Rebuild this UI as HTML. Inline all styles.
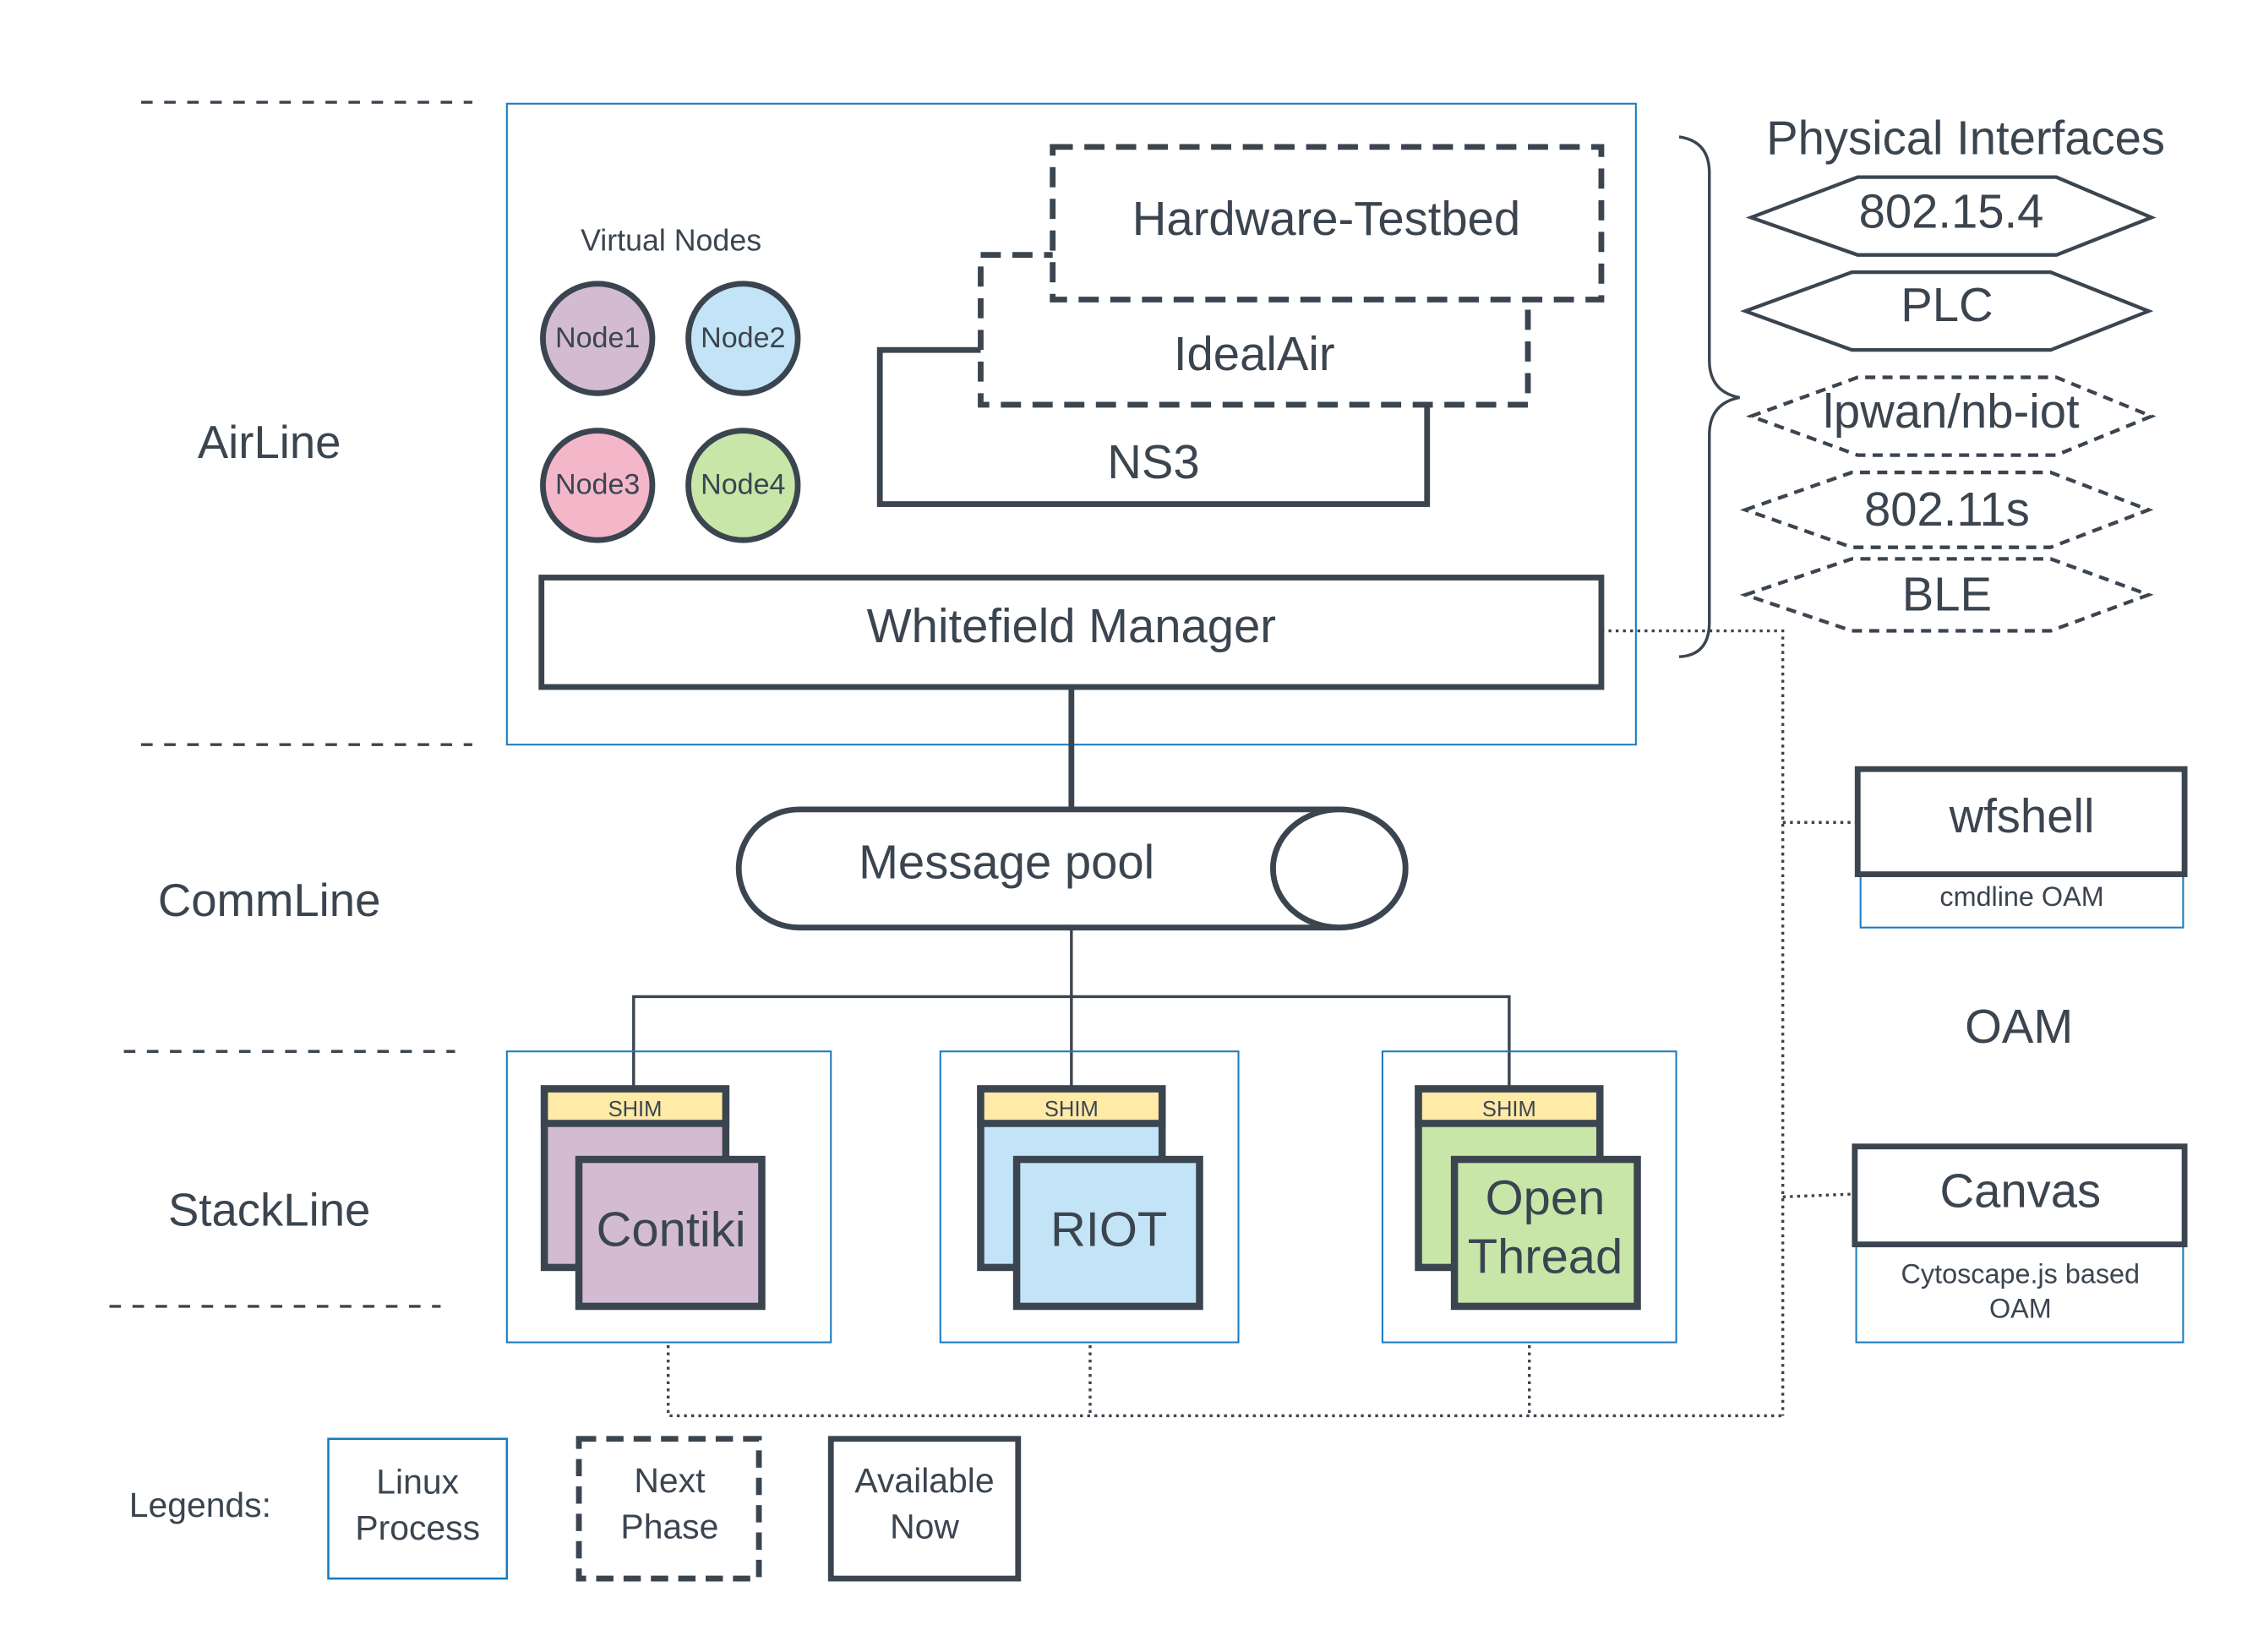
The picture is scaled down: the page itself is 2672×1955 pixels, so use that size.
<!DOCTYPE html>
<html><head><meta charset="utf-8"><style>
html,body{margin:0;padding:0;background:#fff;width:2672px;height:1955px;overflow:hidden}
svg{display:block}
text{font-family:"Liberation Sans",sans-serif;fill:#3b4550}
</style></head><body>
<svg width="2672" height="1955" viewBox="0 0 1568 1147" preserveAspectRatio="none" xmlns="http://www.w3.org/2000/svg">
<g stroke="#3b4550" fill="none">
<g stroke-width="2" stroke-dasharray="8,8">
<line x1="98" y1="71" x2="328" y2="71"/>
<line x1="98" y1="517" x2="328" y2="517"/>
<line x1="86" y1="730" x2="316" y2="730"/>
<line x1="76" y1="907" x2="306" y2="907"/>
</g>
<rect x="352" y="72" width="784" height="445" stroke="#1a7abf" stroke-width="1.2"/>
<rect x="611" y="243" width="380" height="107" stroke-width="4" fill="#fff"/>
<rect x="681" y="177" width="380" height="104" stroke-width="4" stroke-dasharray="14,8" fill="#fff"/>
<rect x="731" y="102" width="381" height="106" stroke-width="4" stroke-dasharray="14,8" fill="#fff"/>
<circle cx="415" cy="235" r="38" stroke-width="4" fill="#d3bcd1"/>
<circle cx="516" cy="235" r="38" stroke-width="4" fill="#c3e4f6"/>
<circle cx="415" cy="337" r="38" stroke-width="4" fill="#f4b7c9"/>
<circle cx="516" cy="337" r="38" stroke-width="4" fill="#c8e6a8"/>
<rect x="376" y="401" width="736" height="76" stroke-width="4" fill="#fff"/>
<line x1="744" y1="477" x2="744" y2="562" stroke-width="4"/>
<path d="M555,562 H930 A46,41 0 0 1 930,644 H555 A42,41 0 0 1 555,562 Z" stroke-width="4" fill="#fff"/>
<ellipse cx="930" cy="603" rx="46" ry="41" stroke-width="4" fill="#fff"/>
<line x1="744" y1="644" x2="744" y2="692" stroke-width="2"/>
<polyline points="440,755 440,692 1048,692 1048,755" stroke-width="2"/>
<line x1="744" y1="692" x2="744" y2="755" stroke-width="2"/>
<rect x="352" y="730" width="225" height="202" stroke="#1a7abf" stroke-width="1.2"/>
<rect x="653" y="730" width="207" height="202" stroke="#1a7abf" stroke-width="1.2"/>
<rect x="960" y="730" width="204" height="202" stroke="#1a7abf" stroke-width="1.2"/>
<g stroke-width="5">
<rect x="378" y="756" width="126" height="124" fill="#d3bcd1"/>
<rect x="378" y="756" width="126" height="24" fill="#ffeaa8"/>
<rect x="402" y="805" width="127" height="102" fill="#d3bcd1"/>
<rect x="681" y="756" width="126" height="124" fill="#c3e4f6"/>
<rect x="681" y="756" width="126" height="24" fill="#ffeaa8"/>
<rect x="706" y="805" width="127" height="102" fill="#c3e4f6"/>
<rect x="985" y="756" width="126" height="124" fill="#c8e6a8"/>
<rect x="985" y="756" width="126" height="24" fill="#ffeaa8"/>
<rect x="1010" y="805" width="127" height="102" fill="#c8e6a8"/>
</g>
<g stroke-width="2" stroke-dasharray="2,3">
<polyline points="464,934 464,983 1238,983"/>
<line x1="757" y1="934" x2="757" y2="983"/>
<line x1="1062" y1="934" x2="1062" y2="983"/>
<polyline points="1112,438 1238,438 1238,983"/>
<line x1="1238" y1="571" x2="1290" y2="571"/>
<line x1="1238" y1="831" x2="1288" y2="829"/>
</g>
<path d="M1166,95 Q1187,98 1187,120 V250 Q1187,272 1208,276 Q1187,280 1187,302 V432 Q1187,455 1166,456" stroke-width="2"/>
<g stroke-width="2.5">
<polygon points="1216,151 1290,123 1428,123 1494,151 1428,177 1290,177"/>
<polygon points="1212,216 1286,189 1424,189 1492,216 1424,243 1286,243"/>
<g stroke-dasharray="7,5">
<polygon points="1216,289 1290,262 1428,262 1494,289 1428,316 1290,316"/>
<polygon points="1212,354 1286,328 1424,328 1492,354 1424,380 1286,380"/>
<polygon points="1212,413 1286,388 1424,388 1492,413 1424,438 1286,438"/>
</g>
</g>
<rect x="1292" y="590" width="224" height="54" stroke="#1a7abf" stroke-width="1.2"/>
<rect x="1290" y="534" width="227" height="73" stroke-width="4" fill="#fff"/>
<rect x="1289" y="860" width="227" height="72" stroke="#1a7abf" stroke-width="1.2"/>
<rect x="1288" y="796" width="229" height="68" stroke-width="4" fill="#fff"/>
<rect x="228" y="999" width="124" height="97" stroke="#1a7abf" stroke-width="1.5"/>
<rect x="402" y="999" width="125" height="97" stroke-width="4" stroke-dasharray="12,7"/>
<rect x="577" y="999" width="130" height="97" stroke-width="4"/>
</g>
<g text-anchor="middle">
<text x="187" y="318" font-size="32">AirLine</text>
<text x="187" y="636" font-size="32">CommLine</text>
<text x="187" y="851" font-size="32">StackLine</text>
<text x="466" y="174" font-size="21">Virtual Nodes</text>
<text x="415" y="241" font-size="20">Node1</text>
<text x="516" y="241" font-size="20">Node2</text>
<text x="415" y="343" font-size="20">Node3</text>
<text x="516" y="343" font-size="20">Node4</text>
<text x="921" y="163" font-size="33">Hardware-Testbed</text>
<text x="871" y="257" font-size="33">IdealAir</text>
<text x="801" y="332" font-size="33">NS3</text>
<text x="744" y="446" font-size="33">Whitefield Manager</text>
<text x="699" y="610" font-size="33">Message pool</text>
<text x="441" y="775" font-size="15">SHIM</text>
<text x="744" y="775" font-size="15">SHIM</text>
<text x="1048" y="775" font-size="15">SHIM</text>
<text x="466" y="865" font-size="34">Contiki</text>
<text x="770" y="865" font-size="34">RIOT</text>
<text x="1073" y="843" font-size="34">Open</text>
<text x="1073" y="884" font-size="34">Thread</text>
<text x="1365" y="107" font-size="33">Physical Interfaces</text>
<text x="1355" y="158" font-size="33">802.15.4</text>
<text x="1352" y="223" font-size="33">PLC</text>
<text x="1355" y="297" font-size="33">lpwan/nb-iot</text>
<text x="1352" y="365" font-size="33">802.11s</text>
<text x="1352" y="424" font-size="33">BLE</text>
<text x="1404" y="578" font-size="33">wfshell</text>
<text x="1404" y="629" font-size="19">cmdline OAM</text>
<text x="1402" y="724" font-size="33">OAM</text>
<text x="1403" y="838" font-size="33">Canvas</text>
<text x="1403" y="891" font-size="19">Cytoscape.js based</text>
<text x="1403" y="915" font-size="19">OAM</text>
<text x="139" y="1053" font-size="24">Legends:</text>
<text x="290" y="1037" font-size="24">Linux</text>
<text x="290" y="1069" font-size="24">Process</text>
<text x="465" y="1036" font-size="24">Next</text>
<text x="465" y="1068" font-size="24">Phase</text>
<text x="642" y="1036" font-size="24">Available</text>
<text x="642" y="1068" font-size="24">Now</text>
</g>
</svg>
</body></html>
